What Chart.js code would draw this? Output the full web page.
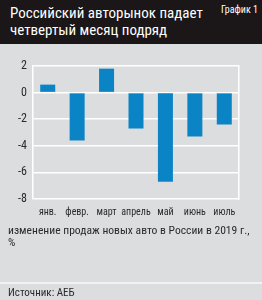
<!DOCTYPE html>
<html>
<head>
<meta charset="utf-8">
<script src="https://cdn.jsdelivr.net/npm/chart.js@4"></script>
<style>
  body { margin: 0; width: 262px; height: 300px; background: #dcdddf; position: relative; overflow: hidden;
         font-family: 'Liberation Sans Narrow', 'Roboto Condensed', 'DejaVu Sans Condensed', sans-serif; color: #2a2a2a; }
  .header { position: absolute; left: 0; top: 0; width: 262px; height: 44px; background: #1b1617; }
  .title { position: absolute; left: 10px; top: 5px; color: #fff; font-size: 15px; line-height: 17px; }
  .tag { position: absolute; right: 4px; top: 4px; color: #fff; font-size: 10px; }
  .chart-box { position: absolute; left: 0; top: 50px; width: 262px; height: 175px; }
  .caption { position: absolute; left: 8px; top: 224px; font-size: 11.6px; line-height: 12px; white-space: nowrap; }
  .sep { position: absolute; left: 0; top: 282px; width: 262px; height: 2px; background: #f2f2f2; }
  .source { position: absolute; left: 8px; top: 286px; font-size: 11px; }
</style>
</head>
<body>
<div class="header">
  <div class="title">Российский авторынок падает<br>четвертый месяц подряд</div>
  <div class="tag">График 1</div>
</div>
<div class="chart-box"><canvas id="chart" width="262" height="175"></canvas></div>
<div class="caption">изменение продаж новых авто в России в 2019 г.,<br>%</div>
<div class="sep"></div>
<div class="source">Источник: АЕБ</div>
<script>
const months = ['янв.', 'февр.', 'март', 'апрель', 'май', 'июнь', 'июль']
const salesChange = [0.6, -3.6, 1.8, -2.7, -6.7, -3.3, -2.4]
const yTicks = [2, 0, -2, -4, -6, -8]

const fontFamily = "'Liberation Sans Narrow', 'Roboto Condensed', 'DejaVu Sans Condensed', sans-serif"

const ctx = document.getElementById('chart').getContext('2d')
new Chart(ctx, {
    type: 'bar',
    data: {
        labels: months,
        datasets: [{
            data: salesChange,
            backgroundColor: '#0b84c6',
            categoryPercentage: 1,
            barPercentage: 0.51
        }]
    },
    options: {
        responsive: false,
        animation: false,
        layout: { padding: { left: 0, right: 23, top: 16, bottom: 0 } },
        plugins: { legend: { display: false }, tooltip: { enabled: false } },
        scales: {
            x: {
                grid: { display: false, drawTicks: false },
                border: { display: false },
                ticks: { color: '#2a2a2a', font: { family: fontFamily, size: 10 }, padding: 7, maxRotation: 0, autoSkip: false },
                afterFit: scale => { scale.height = 26 }
            },
            y: {
                min: Math.min(...yTicks),
                max: Math.max(...yTicks),
                grid: { color: '#ffffff', lineWidth: 1.5, drawTicks: false },
                border: { color: '#ffffff', width: 1.5 },
                ticks: {
                    stepSize: 2,
                    color: '#2a2a2a',
                    font: { family: fontFamily, size: 12 },
                    padding: 6,
                    callback: v => yTicks.includes(v) ? String(v) : ''
                },
                afterFit: scale => { scale.width = 33 }
            },
            y2: {
                position: 'right',
                min: Math.min(...yTicks),
                max: Math.max(...yTicks),
                grid: { display: false, drawTicks: false },
                border: { color: '#ffffff', width: 1.5 },
                ticks: { display: false },
                afterFit: scale => { scale.width = 0 }
            }
        }
    }
})
</script>
</body>
</html>
